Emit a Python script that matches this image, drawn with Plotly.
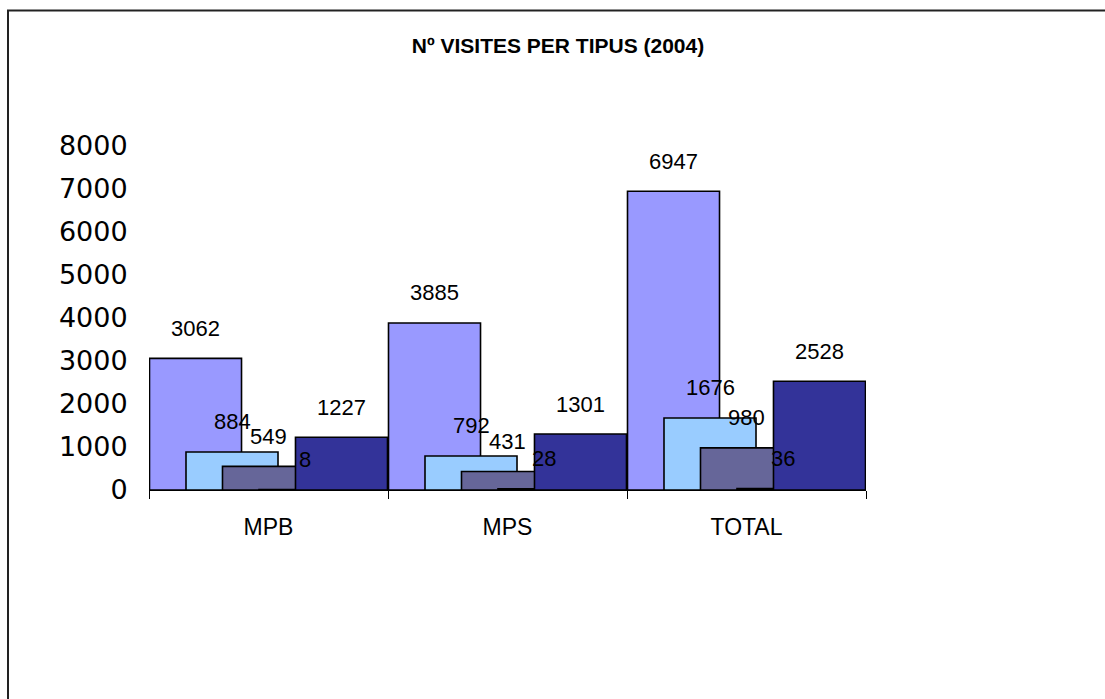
import plotly.graph_objects as go

categories = ["MPB", "MPS", "TOTAL"]
series_names = ["Sèrie 1", "Sèrie 2", "Sèrie 3", "Sèrie 4", "Sèrie 5"]
s1 = [3062, 3885, 6947]
s2 = [884, 792, 1676]
s3 = [549, 431, 980]
s4 = [8, 28, 36]
s5 = [1227, 1301, 2528]
y_ticks = [0, 1000, 2000, 3000, 4000, 5000, 6000, 7000, 8000]
title_text = "Nº VISITES PER TIPUS (2004)"

series = [s1, s2, s3, s4, s5]
colors = ["#9999FF", "#99CCFF", "#666699", "#000000", "#333399"]

W, H = 1105, 699
L, R, T, B = 149, 866, 146, 490
bar_w = 0.385
step = 0.1527

fig = go.Figure()
xs = list(range(len(categories)))
for i, vals in enumerate(series):
    off = (i - 2) * step
    fig.add_trace(go.Bar(
        x=xs, y=vals, name=series_names[i],
        width=bar_w, offset=off - bar_w / 2,
        marker=dict(color=colors[i], line=dict(color="#000000", width=1.6)),
        showlegend=False, hoverinfo="y",
    ))
    for j, v in enumerate(vals):
        fig.add_annotation(
            x=xs[j] + off, y=v, xref="x", yref="y",
            text=str(v), showarrow=False, yshift=30, yanchor="middle",
            font=dict(family="Liberation Sans, Arial", size=22, color="#000000"),
        )

pw = R - L
ph = B - T
fig.add_shape(
    type="rect", xref="paper", yref="paper",
    x0=(8 - L) / pw, x1=(1120 - L) / pw,
    y0=(B - 720) / ph, y1=(B - 10.5) / ph,
    line=dict(color="#222222", width=2), fillcolor="rgba(0,0,0,0)",
)

fig.update_layout(
    width=W, height=H, autosize=False,
    margin=dict(l=L, r=W - R, t=T, b=H - B, pad=0),
    paper_bgcolor="#FFFFFF", plot_bgcolor="#FFFFFF",
    barmode="overlay",
    title=dict(
        text=title_text, x=558 / W, xanchor="center", xref="container",
        y=1 - 46 / H, yanchor="middle",
        font=dict(family="Liberation Sans, Arial", size=21, color="#000000", weight="bold"),
    ),
    xaxis=dict(
        range=[-0.5, 2.5], tickmode="array", tickvals=xs, ticktext=categories,
        showgrid=False, zeroline=False, showline=True, linecolor="#000000", linewidth=1,
        ticks="outside", ticklen=16, tickcolor="rgba(0,0,0,0)",
        tickfont=dict(family="Liberation Sans, Arial", size=23, color="#000000"),
        minor=dict(tickmode="array", tickvals=[-0.5, 0.5, 1.5, 2.5], ticks="outside",
                   ticklen=8, tickcolor="#000000", tickwidth=1, showgrid=False),
        fixedrange=True,
    ),
    yaxis=dict(
        range=[0, 8000], tickmode="array", tickvals=y_ticks,
        ticktext=[str(t) for t in y_ticks],
        showgrid=False, zeroline=False, showline=False,
        ticks="outside", ticklen=15, tickcolor="rgba(0,0,0,0)",
        tickfont=dict(family="DejaVu Sans", size=27, color="#000000"),
        fixedrange=True,
    ),
)

fig.write_html("out.html", config={"displayModeBar": False},
               post_script="document.body.style.margin='0';")
